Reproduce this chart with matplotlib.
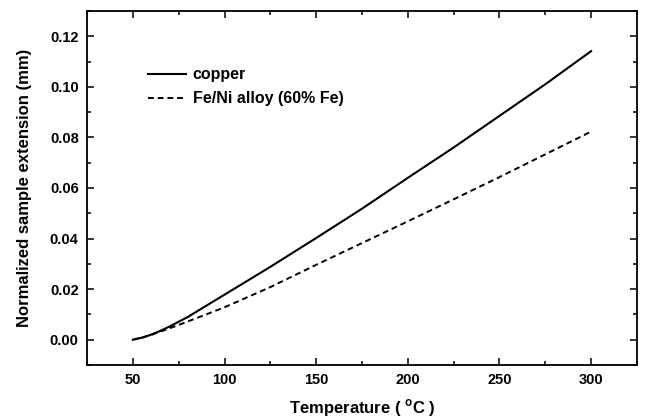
import numpy as np
import matplotlib.pyplot as plt
from matplotlib.ticker import MultipleLocator

plt.rcParams['font.family'] = ['Liberation Sans', 'DejaVu Sans']
plt.rcParams['font.weight'] = 'bold'

# Temperature in deg C
temperature = [50, 55, 60, 65, 70, 80, 90, 100, 125, 150, 175, 200, 225, 250, 275, 300]

# Normalized sample extension (mm)
copper = [0.0, 0.0008, 0.0020, 0.0035, 0.0052, 0.0090, 0.0134, 0.0178, 0.0288,
          0.0402, 0.0518, 0.0640, 0.0760, 0.0885, 0.1010, 0.1141]
fe_ni = [0.0, 0.0008, 0.0019, 0.0032, 0.0045, 0.0072, 0.0100, 0.0128, 0.0208,
         0.0296, 0.0382, 0.0468, 0.0555, 0.0643, 0.0733, 0.0823]

fig = plt.figure(figsize=(6.47, 4.2), dpi=100)
ax = fig.add_axes([0.1345, 0.131, 0.85, 0.843])

ax.plot(temperature, copper, color="black", linewidth=1.5, label="copper")
ax.plot(temperature, fe_ni, color="black", linewidth=1.4,
        linestyle=(0, (3, 2)), label="Fe/Ni alloy (60% Fe)")

ax.set_xlim(25, 325)
ax.set_ylim(-0.01, 0.13)
ax.xaxis.set_major_locator(MultipleLocator(50))
ax.xaxis.set_minor_locator(MultipleLocator(25))
yticks = np.arange(0, 0.121, 0.02)
ax.set_yticks(yticks)
ax.set_yticklabels([f"{v:.2f}" for v in yticks])
ax.yaxis.set_minor_locator(MultipleLocator(0.01))

ax.tick_params(which="both", direction="in", top=True, right=True,
               labelsize=10.5, width=1.1)
ax.tick_params(which="major", length=5, pad=6)
ax.tick_params(which="minor", length=3)
for spine in ax.spines.values():
    spine.set_linewidth(1.3)

ax.set_xlabel("Temperature ( $^{\\mathregular{o}}$C )", fontsize=12,
              fontweight="bold", labelpad=7)
ax.set_ylabel("Normalized sample extension (mm)", fontsize=12,
              fontweight="bold", labelpad=13)

ax.legend(loc="upper left", bbox_to_anchor=(0.085, 0.881), frameon=False,
          fontsize=11.5, handlelength=2.35, handletextpad=0.45, labelspacing=0.55)

fig.savefig("out.png", dpi=100)
